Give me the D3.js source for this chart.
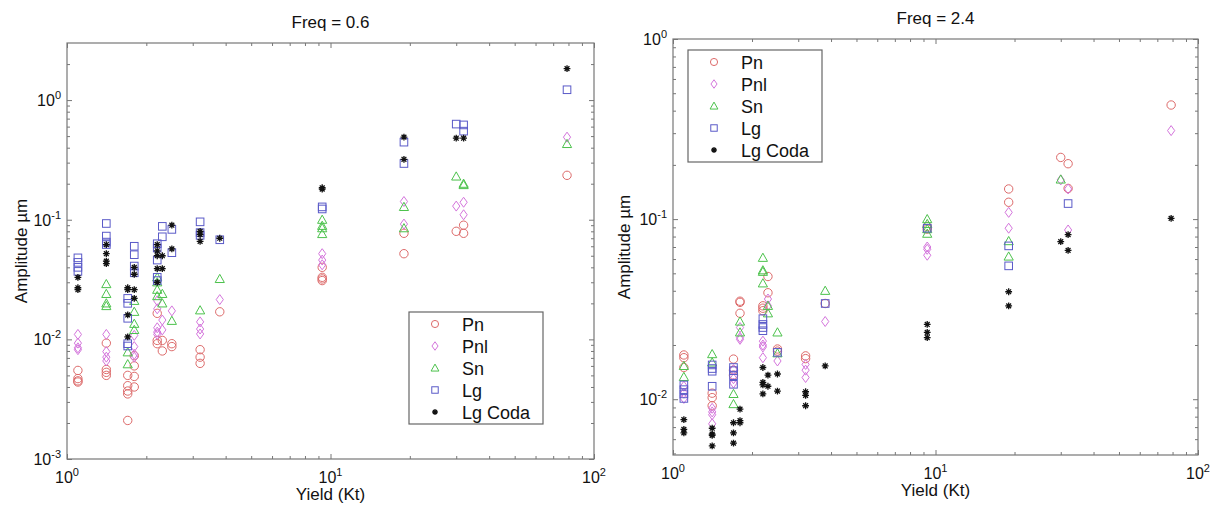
<!DOCTYPE html>
<html>
<head>
<meta charset="utf-8">
<script src="https://cdn.jsdelivr.net/npm/d3@7"></script>
<style>
  body { margin: 0; background: #fff; }
  text { font-family: "Liberation Sans", Arial, Helvetica, sans-serif; fill: #111; }
</style>
</head>
<body>
<div id="chart"></div>
<script>
// yield columns (Kt) shared by both panels
var yields = [1.1, 1.41, 1.7, 1.8, 2.2, 2.3, 2.5, 3.2, 3.8, 9.3, 19, 30, 32, 79];
var seriesNames = ["Pn", "Pnl", "Sn", "Lg", "Lg Coda"];
var xTicks = [1, 10, 100];

// Freq = 0.6 amplitudes (um), one list per yield column
var pn06 = [[0.0055, 0.0047, 0.0045, 0.0044], [0.0093, 0.0056, 0.0053, 0.0050], [0.0050, 0.0041, 0.0037, 0.0035, 0.0021],
  [0.0073, 0.0060, 0.0049, 0.0040], [0.0165, 0.0098, 0.0092], [0.0098, 0.0080], [0.0092, 0.0087], [0.0082, 0.0071, 0.0063],
  [0.017], [0.040, 0.033, 0.032, 0.031], [0.077, 0.052], [0.080], [0.090, 0.077], [0.235]];
var pnl06 = [[0.011, 0.0093, 0.0085, 0.0082], [0.011, 0.0079, 0.0071, 0.0066], [], [0.0108, 0.0087, 0.0075, 0.0071],
  [0.021, 0.018, 0.0125, 0.0115, 0.011], [0.0145, 0.012], [0.0173], [0.014, 0.0122, 0.0111], [0.0215],
  [0.052, 0.046, 0.042], [0.142, 0.092], [0.13], [0.14, 0.11], [0.49]];
var sn06 = [[], [0.029, 0.024, 0.020, 0.019], [0.0078, 0.0062], [0.021, 0.017, 0.0135, 0.012], [0.033, 0.030, 0.026, 0.023],
  [0.024, 0.020], [0.0143], [0.0175], [0.032], [0.10, 0.089, 0.085, 0.076], [0.128, 0.085], [0.23], [0.20, 0.195], [0.43]];
var lg06 = [[0.048, 0.044, 0.040, 0.037], [0.093, 0.073, 0.065, 0.062], [0.022, 0.020, 0.015, 0.0092, 0.0088],
  [0.060, 0.051, 0.041, 0.036], [0.063, 0.058, 0.046, 0.033, 0.031], [0.088, 0.072], [0.083, 0.053], [0.096, 0.078, 0.074],
  [0.068], [0.128, 0.123], [0.445, 0.295], [0.63], [0.62, 0.55], [1.22]];
var coda06 = [[0.033, 0.027, 0.026], [0.062, 0.052, 0.045, 0.043], [0.027, 0.026, 0.016, 0.0105], [0.040, 0.035, 0.026, 0.022],
  [0.062, 0.055, 0.050, 0.039, 0.030], [0.050, 0.039], [0.090, 0.057], [0.080, 0.075, 0.066], [0.070], [0.185, 0.18],
  [0.49, 0.32], [0.48], [0.48], [1.83]];

// Freq = 2.4 amplitudes (um)
var pn24 = [[0.0176, 0.017, 0.015], [0.0108, 0.0102, 0.0092], [0.0167, 0.0145, 0.0136], [0.035, 0.0345, 0.030],
  [0.033, 0.032, 0.031], [0.048, 0.039], [0.019, 0.0185], [0.0174, 0.0168], [0.034], [0.091, 0.088], [0.147, 0.124],
  [0.22], [0.203, 0.148], [0.43]];
var pnl24 = [[0.0118, 0.0108, 0.0101], [0.0089, 0.0085, 0.0082, 0.0073], [0.0146, 0.013, 0.0123], [0.025, 0.022, 0.0215],
  [0.021, 0.020, 0.0195, 0.017], [0.036, 0.033], [0.0163], [0.0156, 0.0145, 0.0132], [0.027], [0.070, 0.068, 0.063],
  [0.109, 0.089], [0.165], [0.147, 0.087], [0.31]];
var sn24 = [[0.0153, 0.0133], [0.0178, 0.016], [0.0107, 0.0094], [0.027, 0.0235], [0.061, 0.052, 0.051, 0.044],
  [0.033, 0.030], [0.0235, 0.018], [], [0.040], [0.10, 0.094, 0.088, 0.083], [0.0755, 0.062], [0.166], [], []];
var lg24 = [[0.012, 0.0113, 0.0107, 0.0101], [0.0155, 0.0148, 0.0143, 0.0118], [0.015, 0.0144, 0.0135, 0.0121], [],
  [0.028, 0.026, 0.025, 0.024], [], [0.0182], [], [0.034], [0.089], [0.071, 0.055], [], [0.122], []];
var coda24 = [[0.0077, 0.0068, 0.0065], [0.0069, 0.0064, 0.0063, 0.0055], [0.0074, 0.0065, 0.0057], [0.0088, 0.0076, 0.0074],
  [0.015, 0.0124, 0.012, 0.0107], [0.0136, 0.0118], [0.0138, 0.0111], [0.011, 0.0105, 0.0092], [0.0153],
  [0.026, 0.0235, 0.022], [0.0395, 0.033], [0.075], [0.082, 0.067], [0.101]];

var colors = ["#dd6a6a", "#d475dc", "#4cc24c", "#5a5ac8", "#111111"];
var shapes = ["circle", "diamond", "triangle", "square", "star"];

var svg = d3.select("#chart")
  .append("svg")
    .attr("width", 1216)
    .attr("height", 506);

// draw one marker centred at 0,0 in group g
function marker(g, shape, color, s) {
  s = s || 1;
  if (shape == "circle") {
    g.append("circle").attr("r", 4.2 * s).attr("fill", "none").attr("stroke", color);
  } else if (shape == "diamond") {
    g.append("path").attr("d", "M0," + (-5 * s) + "L" + (3.6 * s) + ",0L0," + (5 * s) + "L" + (-3.6 * s) + ",0Z")
      .attr("fill", "none").attr("stroke", color);
  } else if (shape == "triangle") {
    g.append("path").attr("d", "M0," + (-4.6 * s) + "L" + (4.6 * s) + "," + (3.6 * s) + "L" + (-4.6 * s) + "," + (3.6 * s) + "Z")
      .attr("fill", "none").attr("stroke", color);
  } else if (shape == "square") {
    g.append("rect").attr("x", -3.8 * s).attr("y", -3.8 * s).attr("width", 7.6 * s).attr("height", 7.6 * s)
      .attr("fill", "none").attr("stroke", color);
  } else {
    var r = 3.4 * s, q = 2.4 * s;
    g.append("path")
      .attr("d", "M0," + (-r) + "V" + r + "M" + (-r) + ",0H" + r + "M" + (-q) + "," + (-q) + "L" + q + "," + q + "M" + (-q) + "," + q + "L" + q + "," + (-q))
      .attr("stroke", color).attr("stroke-width", 1.3);
  }
}

function powLabel(sel, p) {
  sel.append("tspan").text("10");
  sel.append("tspan").attr("dy", -7).attr("font-size", "11px").text(p);
}

function drawPanel(o) {
  var w = o.right - o.left, h = o.bottom - o.top;
  var g = svg.append("g").attr("transform", "translate(" + o.left + "," + o.top + ")");

  var x = d3.scaleLog().domain([1, 100]).range([0, w]);
  var y = d3.scaleLog().domain(o.yDomain).range([h, 0]);

  // major and minor tick values
  var xMinor = [];
  [1, 10].forEach(function (d) { for (var k = 2; k <= 9; k++) xMinor.push(d * k); });
  var yMajor = [], yMinor = [];
  for (var p = -4; p <= 1; p++) {
    var b = Math.pow(10, p);
    if (b >= o.yDomain[0] * 0.999 && b <= o.yDomain[1] * 1.001) yMajor.push(b);
    for (var k = 2; k <= 9; k++) {
      if (b * k > o.yDomain[0] && b * k < o.yDomain[1]) yMinor.push(b * k);
    }
  }

  var axes = [
    [d3.axisBottom, x, xTicks, 5, "translate(0," + h + ")"],
    [d3.axisBottom, x, xMinor, 3, "translate(0," + h + ")"],
    [d3.axisTop, x, xTicks, 5, null],
    [d3.axisTop, x, xMinor, 3, null],
    [d3.axisLeft, y, yMajor, 5, null],
    [d3.axisLeft, y, yMinor, 3, null],
    [d3.axisRight, y, yMajor, 5, "translate(" + w + ",0)"],
    [d3.axisRight, y, yMinor, 3, "translate(" + w + ",0)"]
  ];
  axes.forEach(function (a) {
    var ax = g.append("g")
      .call(a[0](a[1]).tickValues(a[2]).tickSize(-a[3]).tickFormat(""));
    if (a[4]) ax.attr("transform", a[4]);
    ax.select(".domain").remove();
    ax.selectAll("line").attr("stroke", "#777");
  });

  g.append("rect")
    .attr("width", w).attr("height", h)
    .attr("fill", "none").attr("stroke", "#777").attr("stroke-width", 1.2);

  // tick labels
  xTicks.forEach(function (v) {
    g.append("text")
      .attr("x", x(v)).attr("y", h + 24)
      .attr("text-anchor", "middle")
      .style("font-size", "16px")
      .call(powLabel, Math.round(Math.log10(v)));
  });
  yMajor.forEach(function (v) {
    g.append("text")
      .attr("x", -6).attr("y", y(v) + 6)
      .attr("text-anchor", "end")
      .style("font-size", "16px")
      .call(powLabel, Math.round(Math.log10(v)));
  });

  // points
  o.data.forEach(function (cols, si) {
    var pts = [];
    cols.forEach(function (vals, ci) {
      vals.forEach(function (v) { pts.push([yields[ci], v]); });
    });
    g.append("g")
      .selectAll("g")
      .data(pts)
      .enter()
      .append("g")
        .attr("transform", function (d) { return "translate(" + x(d[0]) + "," + y(d[1]) + ")"; })
        .each(function () { marker(d3.select(this), shapes[si], colors[si]); });
  });

  // legend
  var lg = g.append("g").attr("transform", "translate(" + o.legend[0] + "," + o.legend[1] + ")");
  lg.append("rect")
    .attr("width", 134).attr("height", 112)
    .attr("fill", "#fff").attr("stroke", "#666").attr("stroke-width", 1.2);
  seriesNames.forEach(function (name, i) {
    var row = lg.append("g").attr("transform", "translate(0," + (12 + i * 22) + ")");
    marker(row.append("g").attr("transform", "translate(26,0)"), shapes[i], colors[i], 0.85);
    row.append("text")
      .attr("x", 53).attr("y", 6.5)
      .style("font-size", "18px")
      .text(name);
  });

  // titles
  g.append("text")
    .attr("x", w / 2).attr("y", -o.top + o.titleY)
    .attr("text-anchor", "middle")
    .style("font-size", "17px")
    .text(o.title);
  g.append("text")
    .attr("x", w / 2).attr("y", h + 41)
    .attr("text-anchor", "middle")
    .style("font-size", "17px")
    .text("Yield (Kt)");
  g.append("text")
    .attr("transform", "rotate(-90)")
    .attr("x", -h / 2).attr("y", -o.left + o.yLabelX)
    .attr("text-anchor", "middle")
    .style("font-size", "17px")
    .text("Amplitude \u00b5m");
}

drawPanel({
  left: 67, right: 594, top: 43, bottom: 459,
  yDomain: [0.001, 3],
  title: "Freq = 0.6", titleY: 28,
  data: [pn06, pnl06, sn06, lg06, coda06],
  legend: [342, 269],
  yLabelX: 27
});

drawPanel({
  left: 673, right: 1198, top: 39, bottom: 455,
  yDomain: [0.0049, 1],
  title: "Freq = 2.4", titleY: 24,
  data: [pn24, pnl24, sn24, lg24, coda24],
  legend: [15, 11],
  yLabelX: 630
});
</script>
</body>
</html>
